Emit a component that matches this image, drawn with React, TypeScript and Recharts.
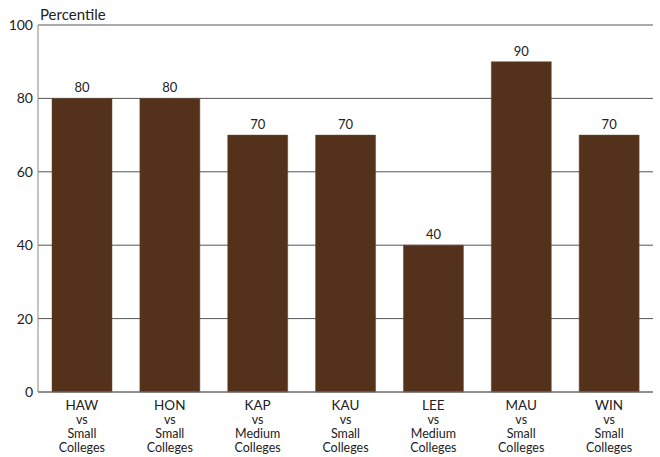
import React from "react";
import { BarChart, Bar, XAxis, YAxis, CartesianGrid, LabelList } from "recharts";

const campuses = ["HAW", "HON", "KAP", "KAU", "LEE", "MAU", "WIN"];
const groups = ["Small", "Small", "Medium", "Small", "Medium", "Small", "Small"];
const percentiles = [80, 80, 70, 70, 40, 90, 70];
const yTicks = [0, 20, 40, 60, 80, 100];

const data = campuses.map((c, i) => ({ name: c, group: groups[i], value: percentiles[i] }));

const FONT = "Lato, 'Open Sans', sans-serif";

const XTick = (props: any) => {
  const { x, payload, index } = props;
  const base = 392;
  const lines = [payload.value, "vs", groups[index], "Colleges"];
  const ys = [18, 32, 46, 60];
  return (
    <g>
      {lines.map((l, i) => (
        <text key={i} x={x} y={base + ys[i]} textAnchor="middle" fontSize={i === 0 ? 13.5 : 12.5} fill="#222" fontFamily={FONT}>
          {l}
        </text>
      ))}
    </g>
  );
};

export default function App() {
  return (
    <div style={{ position: "absolute", left: 0, top: 0, width: 660, height: 457, background: "#fff" }}>
      <BarChart width={660} height={457} data={data} margin={{ top: 25, right: 7, bottom: 0, left: 0 }} barCategoryGap={14}>
        <CartesianGrid vertical={false} stroke="#555" strokeWidth={1} />
        <XAxis dataKey="name" height={65} tickLine={false} tickSize={0} tickMargin={0} axisLine={{ stroke: "#777" }} tick={<XTick />} interval={0} />
        <YAxis
          domain={[0, 100]}
          ticks={yTicks}
          width={38}
          tickLine={false}
          tickSize={0}
          axisLine={{ stroke: "#888" }}
          tick={{ fontSize: 14, fill: "#222", fontFamily: FONT }}
          tickMargin={5}
        />
        <YAxis yAxisId="r" orientation="right" width={0} domain={[0, 100]} tick={false} tickLine={false} axisLine={{ stroke: "#333", strokeWidth: 1.5 }} />
        <Bar dataKey="value" fill="#54311a" stroke="#6b4a35" strokeWidth={0.5} isAnimationActive={false}>
          <LabelList dataKey="value" position="top" offset={6} fontSize={13} fill="#222" fontFamily={FONT} />
        </Bar>
        <text x={40} y={20} fontSize={15} fill="#222" fontFamily={FONT}>Percentile</text>
      </BarChart>
    </div>
  );
}
